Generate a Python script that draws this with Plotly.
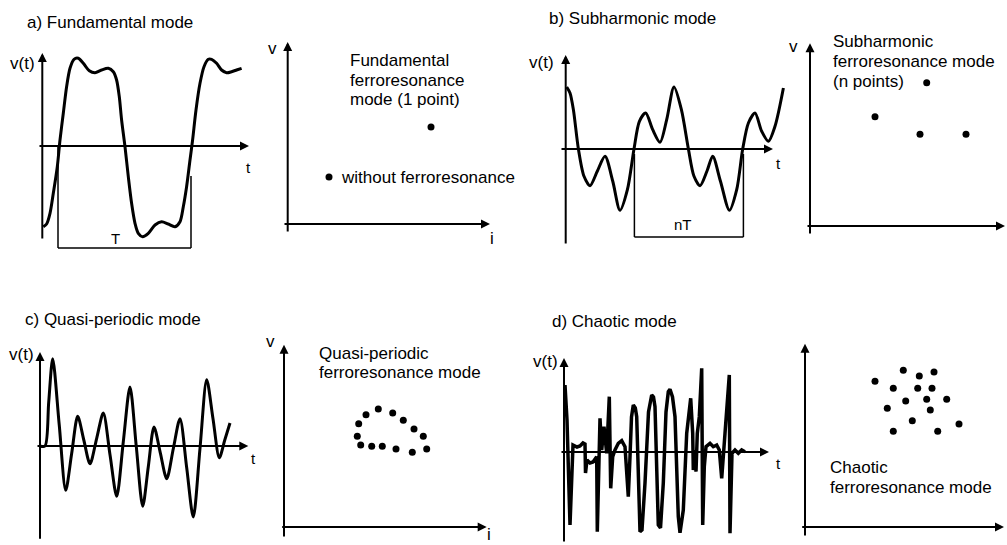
import plotly.graph_objects as go

W, H = 1007, 545

# ---------------- data (local units) ----------------
# a) Fundamental mode waveform
a_t = [1.0, 4.3, 7.7, 11, 15, 17.7, 21, 24.3, 27.7, 31.7, 36, 41, 47, 52.7, 59.3, 66, 71, 74.3,
       77, 79.3, 82.7, 86, 89.3, 92.7, 96, 100.3, 106, 112.7, 119.3, 126, 132.7, 137.7, 141,
       144.3, 147.7, 150.3, 153.7, 157.7, 161.7, 166, 169.3, 174.3, 179.3, 184.3, 189.3, 194.3, 199.3]
a_v = [-80.7, -78, -67.3, -47.3, -20.7, 6, 32.7, 59.3, 77.7, 86.7, 87.7, 82.7, 75.3, 73.3, 76, 77.7,
       74.3, 66, 49.3, 26, -0.7, -30.7, -57.3, -77.3, -87.3, -90.7, -87.3, -79, -75.7, -78, -80.7,
       -75.7, -60.7, -40.7, -14, 6, 36, 62.7, 79.3, 86.7, 86.7, 82.7, 76, 73.3, 74.3, 76, 77.7]
a_period_t = [15.7, 15.7, None, 148.7, 148.7, None, 15.7, 148.7]
a_period_v = [0, -102, None, -30, -102, None, -102, -102]
# a) phase-plane points
a_pts_i = [143.3, 41.3]
a_pts_v = [97, 47]

# b) Subharmonic mode waveform
b_t = [1, 4.3, 7.7, 12.7, 18.3, 24.3, 31.7, 39.3, 47, 54.3, 61.7, 68.3, 73.7, 80, 87, 94.3, 101,
       108.3, 115.7, 122.7, 128.3, 134.3, 141.3, 147, 154.7, 163.7, 171, 177, 182.7, 189.3, 196,
       202.7, 209.3, 217.7]
b_v = [62, 56, 39.3, 0, -27.3, -36.7, -22, -7.3, -32, -61.3, -40.7, 0, 27.7, 36, 19.3, 6.7, 29.3,
       62, 39.3, 0, -27.3, -36.7, -22, -7.3, -32, -61.3, -40.7, 0, 26, 36, 17.7, 7.7, 22.7, 61]
b_period_t = [68.7, 68.7, None, 177.7, 177.7, None, 68.7, 177.7]
b_period_v = [-5, -88, None, -5, -88, None, -88, -88]
# b) phase-plane points
b_pts_i = [116.7, 65, 110, 156]
b_pts_v = [143.3, 109.3, 91.7, 91.7]

# c) Quasi-periodic mode waveform
c_t = [0, 5, 8.7, 12.7, 19.2, 25.7, 31.7, 37.7, 43.8, 50, 56.7, 63.3, 70, 76.7, 83.3, 90, 96.3,
       102.7, 108.3, 114, 120.3, 126.7, 133.3, 140, 146.7, 153.3, 160, 166.7, 173, 179.3, 184.7, 190]
c_v = [0, 0, 43.7, 87.3, 21.5, -44.3, -7.3, 29.7, 6, -17.7, 7.7, 33, -8.7, -50.3, 4.3, 59, -0.7,
       -60.3, -20.7, 19, -6.8, -32.7, -2.7, 27.3, -21.8, -71, -2.3, 66.3, 27.3, -11.7, 5.7, 23]
# c) phase-plane points (closed loop of dots)
c_pts_i = [94.3, 108.7, 119.3, 130, 139.3, 142.7, 128.3, 112, 98.3, 87.7, 76.7, 73.3, 74.7, 82]
c_pts_v = [118, 114, 106.7, 98, 90.7, 78, 74.7, 78, 80.7, 80.7, 82, 90.7, 103.3, 112.3]

# d) Chaotic mode waveform
d_t = [1, 3, 6, 9, 13, 16, 19, 21, 21.5, 23, 26, 29, 32.7, 33.3, 36, 37.7, 40, 42.7, 45.3, 46.7,
       48.7, 51, 54.3, 57.7, 61, 64.3, 66, 67.5, 69.3, 71.3, 72.7, 76, 78, 81, 84.5, 87.7, 89.5, 91,
       94.3, 96.5, 99.3, 102, 104.3, 106, 108.5, 111, 114.3, 116, 119.3, 122.7, 126.7, 128.7, 129.3,
       131, 132, 133.3, 135.3, 137.7, 138.7, 140.3, 142, 146, 149.3, 152.7, 155.3, 157.7, 161,
       165.3, 166, 168, 171, 174.3, 177.7, 181]
d_v = [67, 32, -73, 7, 5, 6, 9, 8, -21, -8, -11, -10, -4.7, -79.7, 33.7, 2, 25.3, -1.3, 55.3, -36.3,
       -4.7, 2, 8.7, 11.3, 5.3, -44.7, -4.7, 35, 47, 44, 35.3, -79.7, -78, -31, 40, 57, 55, 45.3,
       -73, -76, -31, 40, 60.3, 62.7, 55, 35.3, -64.7, -80.7, -58, 18.7, 53.7, 18.7, -18, 2, -19.7,
       18.7, 35.3, 83.7, -73, -14.7, 5.3, 8.7, 5.3, 7, 2, -26.3, 18.7, 77, -81.3, -1.3, 2, -1.3, 2, 0.3]
# d) phase-plane points (scattered cloud)
d_pts_i = [70, 98.3, 114.3, 129, 88.3, 112.7, 127, 100.7, 121.7, 141.7, 82.3, 125.3, 107.3, 154,
           88.3, 132.7]
d_pts_v = [145.7, 156.7, 151, 155, 138.7, 138.7, 138.7, 126, 127.7, 127.7, 118.7, 117, 106.3, 103,
           95.7, 95.7]

titles = ["a) Fundamental mode", "b) Subharmonic mode", "c) Quasi-periodic mode", "d) Chaotic mode"]

# ---------------- layout of the eight panels (pixel boxes, origins) ----------------
panels = [
    dict(box=(0, 260, 30, 270), origin=(42.3, 146)),     # 1 a wave
    dict(box=(260, 520, 30, 270), origin=(287.7, 224)),  # 2 a phase plane
    dict(box=(520, 790, 30, 270), origin=(565.7, 149)),  # 3 b wave
    dict(box=(790, 1007, 30, 270), origin=(810, 226)),   # 4 b phase plane
    dict(box=(0, 260, 330, 545), origin=(40, 446)),      # 5 c wave
    dict(box=(260, 520, 330, 545), origin=(284, 527)),   # 6 c phase plane
    dict(box=(520, 790, 330, 545), origin=(564, 452)),   # 7 d wave
    dict(box=(790, 1007, 330, 545), origin=(805, 527)),  # 8 d phase plane
]
# title positions (left edge, vertical centre) in pixels
title_pos = [(25, 22), (547, 18), (23, 319), (550, 321)]

FONT = dict(family="Liberation Sans, Arial, sans-serif", size=17, color="black")


def ax_names(n):
    s = "" if n == 1 else str(n)
    return "x" + s, "y" + s


fig = go.Figure()
layout = dict(width=W, height=H, margin=dict(l=0, r=0, t=0, b=0), showlegend=False,
              paper_bgcolor="white", plot_bgcolor="rgba(0,0,0,0)", font=FONT)

for n, p in enumerate(panels, start=1):
    x0, x1, y0, y1 = p["box"]
    ox, oy = p["origin"]
    xn, yn = ax_names(n)
    layout["xaxis" + xn[1:]] = dict(domain=[x0 / W, x1 / W], range=[x0 - ox, x1 - ox], visible=False,
                                    anchor=yn, fixedrange=True)
    layout["yaxis" + yn[1:]] = dict(domain=[1 - y1 / H, 1 - y0 / H], range=[oy - y1, oy - y0],
                                    visible=False, anchor=xn, fixedrange=True)

annotations = []


def arrow(n, x0, y0, x1, y1):
    xn, yn = ax_names(n)
    annotations.append(dict(xref=xn, yref=yn, axref=xn, ayref=yn, x=x1, y=y1, ax=x0, ay=y0,
                            text="", showarrow=True, arrowhead=2, arrowsize=0.9, arrowwidth=2,
                            arrowcolor="black", standoff=0, startstandoff=0))


def label(n, x, y, text, xanchor="center", size=17):
    xn, yn = ax_names(n)
    annotations.append(dict(xref=xn, yref=yn, x=x, y=y, text=text, showarrow=False,
                            xanchor=xanchor, yanchor="middle",
                            font=dict(family=FONT["family"], size=size, color="black")))


def curve(n, t, v, width=3, shape="spline"):
    xn, yn = ax_names(n)
    fig.add_trace(go.Scatter(x=t, y=v, xaxis=xn, yaxis=yn, mode="lines",
                             line=dict(color="black", width=width, shape=shape,
                                       smoothing=0.8 if shape == "spline" else None),
                             hoverinfo="skip"))


def bracket(n, t, v):
    xn, yn = ax_names(n)
    fig.add_trace(go.Scatter(x=t, y=v, xaxis=xn, yaxis=yn, mode="lines",
                             line=dict(color="black", width=1.5), connectgaps=False,
                             hoverinfo="skip"))


def dots(n, i, v):
    xn, yn = ax_names(n)
    fig.add_trace(go.Scatter(x=i, y=v, xaxis=xn, yaxis=yn, mode="markers",
                             marker=dict(color="black", size=7), hoverinfo="skip"))


for text, (px, py) in zip(titles, title_pos):
    annotations.append(dict(xref="paper", yref="paper", x=px / W, y=1 - py / H, text=text,
                            showarrow=False, xanchor="left", yanchor="middle",
                            font=dict(family=FONT["family"], size=17, color="black")))

# ---- a) ----
curve(1, a_t, a_v)
bracket(1, a_period_t, a_period_v)
arrow(1, 0, -94, 0, 93)
arrow(1, -4.3, 0, 206.7, 0)
label(1, -20.3, 83, "v(t)")
label(1, 205.7, -21, "t", size=15)
label(1, 72.7, -92, "T", size=15)

dots(2, a_pts_i, a_pts_v)
arrow(2, 0, -9, 0, 182)
arrow(2, -4.7, 0, 202.3, 0)
label(2, -15.7, 176, "v")
label(2, 204.3, -14, "i")
label(2, 60.3, 164, "Fundamental", xanchor="left")
label(2, 60.3, 144, "ferroresonance", xanchor="left")
label(2, 60.3, 124.5, "mode (1 point)", xanchor="left")
label(2, 51.3, 47, "without ferroresonance", xanchor="left")

# ---- b) ----
curve(3, b_t, b_v)
bracket(3, b_period_t, b_period_v)
arrow(3, 0, -96, 0, 94)
arrow(3, -5.7, 0, 207.3, 0)
label(3, -24.7, 87, "v(t)")
label(3, 212.3, -14, "t", size=15)
label(3, 117.7, -75.7, "nT", size=15)

dots(4, b_pts_i, b_pts_v)
arrow(4, 0, -9, 0, 182.7)
arrow(4, -4, 0, 195, 0)
label(4, -16.7, 179.3, "v")
label(4, 20.7, 184.3, "Subharmonic", xanchor="left")
label(4, 20.7, 164.3, "ferroresonance mode", xanchor="left")
label(4, 20.7, 144.3, "(n points)", xanchor="left")

# ---- c) ----
curve(5, c_t, c_v)
arrow(5, 0, -94.3, 0, 94)
arrow(5, -4, 0, 208.3, 0)
label(5, -18.3, 91.7, "v(t)")
label(5, 213.3, -12.7, "t", size=15)

dots(6, c_pts_i, c_pts_v)
arrow(6, 0, -11, 0, 182.3)
arrow(6, -3.3, 0, 202.7, 0)
label(6, -14, 185.7, "v")
label(6, 205.3, -7, "i")
label(6, 33.3, 174, "Quasi-periodic", xanchor="left")
label(6, 33.3, 154.7, "ferroresonance mode", xanchor="left")

# ---- d) ----
curve(7, d_t, d_v, width=3.5, shape="linear")
arrow(7, 0, -91, 0, 94)
arrow(7, -4, 0, 205, 0)
label(7, -19, 91, "v(t)")
label(7, 214, -11, "t", size=15)

dots(8, d_pts_i, d_pts_v)
arrow(8, 0, -10, 0, 183.3)
arrow(8, -4.3, 0, 199, 0)
label(8, -18.3, 183.3, "v")
label(8, 22.7, 60, "Chaotic", xanchor="left")
label(8, 22.7, 40, "ferroresonance mode", xanchor="left")

layout["annotations"] = annotations
fig.update_layout(**layout)
fig.write_html("out.html")
